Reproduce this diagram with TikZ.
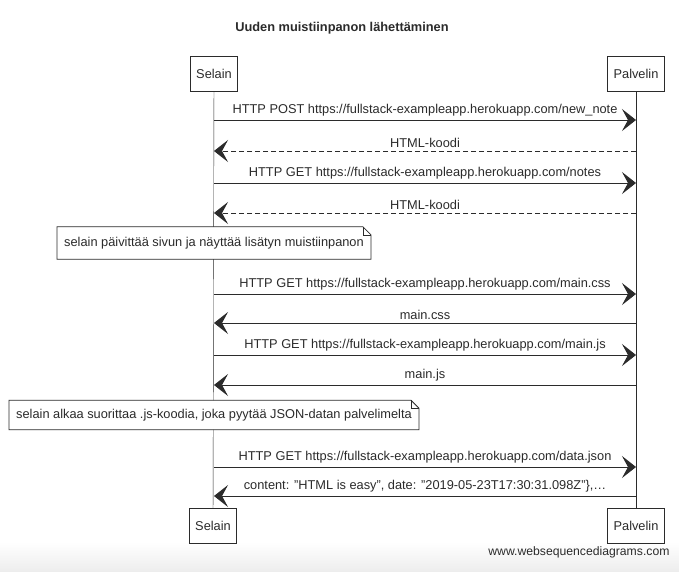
\documentclass[tikz,border=0pt]{standalone}
\usepackage{fontspec}
\setmainfont{Liberation Sans}
\usetikzlibrary{arrows.meta,calc}
\definecolor{ink}{HTML}{2B2B2B}

\begin{document}
\begin{tikzpicture}[x=1pt, y=-1pt, font=\fontsize{12.8}{15}\selectfont, text=ink,
  actor/.style={draw=ink, thick, minimum height=35pt, inner xsep=6pt},
  msg/.style={ink, thick, -{Stealth[length=14pt,width=22pt,inset=6pt]}},
  reply/.style={dash pattern=on 5pt off 3pt},
  note/.style={minimum height=32pt, inner xsep=7pt}]
\useasboundingbox[fill=white] (0,0) rectangle (679,571);
\shade[top color=white, bottom color=gray!14] (0,542) rectangle (679,571);

\node[font=\fontsize{12.8}{15}\bfseries] (title) at (342,28) {Uuden muistiinpanon lähettäminen};

% participants
\node[actor] (sel)  at (214,74)  {Selain};
\node[actor] (pal)  at (636,74)  {Palvelin};
\node[actor] (sel2) at (213,526) {Selain};
\node[actor] (pal2) at (636,526) {Palvelin};
\draw[ink] (sel) -- (sel2);
\draw[ink] (pal) -- (pal2);

% message ends on the lifelines
\coordinate (s1) at (214,120); \coordinate (p1) at (636,120);
\coordinate (s2) at (214,151); \coordinate (p2) at (636,151);
\coordinate (s3) at (214,183); \coordinate (p3) at (636,183);
\coordinate (s4) at (214,213); \coordinate (p4) at (636,213);
\coordinate (s5) at (214,294); \coordinate (p5) at (636,294);
\coordinate (s6) at (214,323); \coordinate (p6) at (636,323);
\coordinate (s7) at (214,355); \coordinate (p7) at (636,355);
\coordinate (s8) at (214,385); \coordinate (p8) at (636,385);
\coordinate (s9) at (214,467); \coordinate (p9) at (636,467);
\coordinate (s10) at (214,496); \coordinate (p10) at (636,496);

\path[msg]
(s1) edge node[above] {HTTP POST https://fullstack-exampleapp.herokuapp.com/new\_note} (p1)
(p2) edge[reply] node[above] {HTML-koodi} (s2)
(s3) edge node[above] {HTTP GET https://fullstack-exampleapp.herokuapp.com/notes} (p3)
(p4) edge[reply] node[above] {HTML-koodi} (s4)
(s5) edge node[above] {HTTP GET https://fullstack-exampleapp.herokuapp.com/main.css} (p5)
(p6) edge node[above] {main.css} (s6)
(s7) edge node[above] {HTTP GET https://fullstack-exampleapp.herokuapp.com/main.js} (p7)
(p8) edge node[above] {main.js} (s8)
(s9) edge node[above] {HTTP GET https://fullstack-exampleapp.herokuapp.com/data.json} (p9)
(p10) edge node[above] {content: "HTML is easy", date: "2019-05-23T17:30:31.098Z"\},\dots} (s10);

% notes
\node[note] (n1) at (214,243) {selain päivittää sivun ja näyttää lisätyn muistiinpanon};
\node[note, minimum height=29pt] (n2) at (214,415) {selain alkaa suorittaa .js-koodia, joka pyytää JSON-datan palvelimelta};
\foreach \n in {n1,n2} {
  \draw[ink, thick, fill=white] (\n.north west) -- ($(\n.north east)+(-8,0)$) -- ($(\n.north east)+(0,8)$)
    -- (\n.south east) -- (\n.south west) -- cycle;
  \draw[ink] ($(\n.north east)+(-8,0)$) -- ($(\n.north east)+(-8,8)$) -- ($(\n.north east)+(0,8)$);
}
\node at (n1) {selain päivittää sivun ja näyttää lisätyn muistiinpanon};
\node at (n2) {selain alkaa suorittaa .js-koodia, joka pyytää JSON-datan palvelimelta};

\node[anchor=east, font=\fontsize{12.2}{14}\selectfont] (wsd) at (673,552) {www.websequencediagrams.com};
\end{tikzpicture}
\end{document}
